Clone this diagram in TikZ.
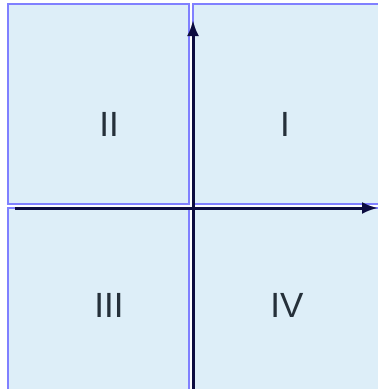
\documentclass[tikz,border=0pt]{standalone}
\usepackage{fontspec}
\setmainfont{Liberation Sans}
\usepackage{tikz}
\usetikzlibrary{arrows.meta}
\definecolor{quadfill}{HTML}{DDEEF8}
\definecolor{quadline}{HTML}{8080FF}
\definecolor{axisline}{HTML}{0C0C40}
\definecolor{lbltext}{HTML}{25303A}
\tikzset{
  quad/.style={draw=quadline, fill=quadfill, line width=2.3pt, inner sep=0pt,
               minimum width=#1},
  quad/.default=181pt,
  axis/.style={draw=axisline, line width=3pt},
  lbl/.style={font=\fontsize{35}{38}\selectfont, text=lbltext, inner sep=0pt},
}

\begin{document}
\begin{tikzpicture}[x=1pt, y=-1pt, >={Latex[length=16pt,width=12pt]}]
  \useasboundingbox (0,0) rectangle (378,389);
  \clip (0,0) rectangle (378,389);
  % quadrant boxes
  \node[quad, minimum height=200pt] (qII) at (98.5,104) {};
  \node[quad=192pt, minimum height=200pt] (qI) at (289,104) {};
  \node[quad, minimum height=190pt] (qIII) at (98.5,303) {};
  \node[quad=192pt, minimum height=190pt] (qIV) at (289,303) {};
  % labels
  \node[lbl] (lII) at (109,124.5) {II};
  \node[lbl] (lI) at (285,124.5) {I};
  \node[lbl] (lIII) at (109,305) {III};
  \node[lbl] (lIV) at (287,305) {IV};
  % axes
  \coordinate (xs) at (15,208);
  \coordinate (xe) at (378,208);
  \coordinate (ys) at (193,389);
  \coordinate (ye) at (193,20);
  \draw[axis, ->] (xs) -- (xe);
  \draw[axis, ->] (ys) -- (ye);
\end{tikzpicture}
\end{document}
